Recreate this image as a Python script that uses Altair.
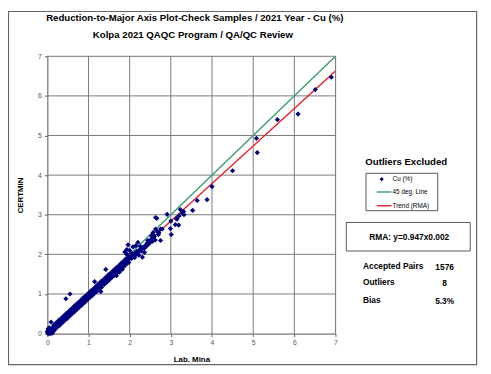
import altair as alt
import pandas as pd

# ---------------- data ----------------
origin_x = [0.00, 0.01, 0.02, 0.02, 0.03, 0.04, 0.05, 0.05, 0.06, 0.07, 0.08, 0.09, 0.10, 0.11,
            0.12, 0.12, 0.13, 0.14, 0.15, 0.03, 0.06, 0.09]
origin_y = [0.05, 0.02, 0.00, 0.12, 0.05, 0.01, 0.08, 0.15, 0.03, 0.00, 0.10, 0.05, 0.02, 0.13,
            0.08, 0.01, 0.15, 0.10, 0.06, 0.09, 0.07, 0.11]

low_x = [0.18, 0.24, 0.30, 0.36, 0.42, 0.48, 0.54, 0.60, 0.66, 0.72, 0.78, 0.84, 0.90, 0.96, 1.02, 1.08,
         1.14, 1.20, 1.26, 1.32, 1.38, 1.44, 1.50, 1.56, 1.62, 1.68, 1.74, 1.80, 1.86, 1.92, 1.98]
low_y = [0.10, 0.16, 0.21, 0.27, 0.33, 0.38, 0.44, 0.50, 0.55, 0.61, 0.67, 0.72, 0.78, 0.84, 0.90, 0.95,
         1.01, 1.06, 1.13, 1.17, 1.24, 1.29, 1.35, 1.41, 1.46, 1.52, 1.58, 1.63, 1.69, 1.75, 1.80]

mid_x = [0.15, 0.20, 0.25, 0.30, 0.35, 0.40, 0.45, 0.50, 0.55, 0.60, 0.65, 0.70, 0.75, 0.80, 0.85, 0.90,
         0.95, 1.00, 1.05, 1.10, 1.15, 1.20, 1.25, 1.30, 1.35, 1.40, 1.45, 1.50, 1.55, 1.60, 1.65, 1.70,
         1.75, 1.80, 1.85, 1.90, 1.95, 2.00]
mid_y = [0.14, 0.19, 0.24, 0.29, 0.33, 0.38, 0.43, 0.48, 0.52, 0.57, 0.62, 0.67, 0.71, 0.76, 0.81, 0.86,
         0.90, 0.95, 1.00, 1.05, 1.09, 1.14, 1.19, 1.24, 1.28, 1.33, 1.38, 1.43, 1.47, 1.52, 1.57, 1.62,
         1.66, 1.71, 1.76, 1.81, 1.85, 1.90]

up_x = [0.16, 0.22, 0.28, 0.34, 0.40, 0.46, 0.52, 0.58, 0.64, 0.70, 0.76, 0.82, 0.88, 0.94, 1.00, 1.06,
        1.12, 1.18, 1.24, 1.30, 1.36, 1.42, 1.48, 1.54, 1.60, 1.66, 1.72, 1.78, 1.84, 1.90, 1.96]
up_y = [0.22, 0.28, 0.34, 0.39, 0.45, 0.51, 0.56, 0.62, 0.68, 0.74, 0.79, 0.85, 0.91, 0.96, 1.02, 1.08,
        1.13, 1.19, 1.25, 1.31, 1.36, 1.42, 1.48, 1.53, 1.59, 1.65, 1.70, 1.76, 1.82, 1.88, 1.93]

ext_x = [2.02, 2.05, 2.08, 2.10, 2.12, 2.15, 2.18, 2.20, 2.22, 2.25, 2.28, 2.31, 2.32, 2.35, 2.38, 2.40,
         2.42, 2.45, 2.48, 2.50, 2.52, 2.55, 2.58, 2.60, 2.62, 2.05, 1.95, 1.92, 1.98, 2.12, 2.26, 2.36,
         2.44, 2.53, 2.57, 2.68, 2.70, 2.75, 1.88, 1.96, 2.08, 2.00, 1.93, 2.15, 2.20, 1.68, 1.75, 1.82]
ext_y = [1.95, 1.90, 2.00, 1.96, 2.03, 1.99, 2.08, 2.05, 1.98, 2.12, 2.08, 1.93, 2.18, 2.15, 2.22, 2.20,
         2.28, 2.25, 2.32, 2.30, 2.38, 2.33, 2.42, 2.46, 2.36, 2.02, 1.98, 2.02, 1.90, 1.92, 2.20, 2.05,
         2.35, 2.47, 2.55, 2.57, 2.50, 2.35, 2.06, 2.24, 2.19, 2.10, 2.12, 2.22, 2.30, 1.46, 1.55, 1.62]

cluster_x = [2.63, 2.66, 2.91, 3.23, 3.31, 3.32, 3.20, 3.13, 3.11, 3.19, 3.00, 2.99, 3.01, 2.75, 2.63,
             2.71, 2.54, 3.53, 3.15, 2.79, 3.28]
cluster_y = [2.93, 2.91, 3.01, 3.13, 3.08, 3.00, 2.97, 2.90, 2.75, 2.74, 2.84, 2.65, 2.50, 2.64, 2.64,
             2.55, 2.47, 3.11, 2.89, 2.64, 3.04]

high_x = [3.64, 3.88, 4.00, 4.50, 5.08, 5.10, 5.59, 6.09, 6.51, 6.90]
high_y = [3.36, 3.38, 3.71, 4.11, 4.93, 4.57, 5.40, 5.54, 6.16, 6.47]

stray_x = [0.45, 0.55, 0.09, 1.15, 1.30, 1.42]
stray_y = [0.88, 1.00, 0.29, 1.31, 1.06, 1.62]

line45_x = [0, 7]
line45_y = [0, 7]
trend_x = [0, 7]
trend_y = [0.002, 6.631]

ticks = [0, 0.5, 1, 1.5, 2, 2.5, 3, 3.5, 4, 4.5, 5, 5.5, 6, 6.5, 7]
grid_values = [1, 2, 3, 4, 5, 6, 7]

title1 = "Reduction-to-Major Axis Plot-Check Samples / 2021 Year - Cu (%)"
title2 = "Kolpa 2021 QAQC Program / QA/QC Review"
stat_labels = ["Accepted Pairs", "Outliers", "Bias"]
stat_values = ["1576", "8", "5.3%"]
legend_labels = ["Cu (%)", "45 deg. Line", "Trend (RMA)"]

# ---------------- build ----------------
FONT = "Liberation Sans"
W, H = 293, 282
NAVY = "#00007f"
GREEN = "#3a9a6c"
RED = "#ee1c24"
GRID = "#7a7a7a"

pts = pd.DataFrame({
    "x": origin_x + low_x + mid_x + up_x + ext_x + cluster_x + high_x + stray_x,
    "y": origin_y + low_y + mid_y + up_y + ext_y + cluster_y + high_y + stray_y,
})
lines = pd.DataFrame({
    "x": line45_x + trend_x,
    "y": line45_y + trend_y,
    "s": ["45"] * 2 + ["trend"] * 2,
})
grid_df = pd.DataFrame({"g": grid_values})

xscale = alt.Scale(domain=[0, 7], nice=False, zero=False)
yscale = alt.Scale(domain=[0, 7], nice=False, zero=False)

lab_expr = "datum.value % 1 === 0 ? datum.label : ''"

xaxis = alt.Axis(values=ticks, labelExpr=lab_expr, grid=False,
                 domainColor="#606060", tickColor="#606060", tickSize=3, labelFontSize=7,
                 labelColor="#555555", labelFont=FONT, title="Lab. Mina", titleFont=FONT,
                 titleFontSize=8, titleFontWeight="bold", titlePadding=10, labelPadding=2,
                 labelFlush=False)
yaxis = alt.Axis(values=ticks, labelExpr=lab_expr, grid=False,
                 domainColor="#606060", tickColor="#606060", tickSize=3, labelFontSize=7,
                 labelColor="#555555", labelFont=FONT, title="CERTMIN", titleFont=FONT,
                 titleFontSize=8, titleFontWeight="bold", titlePadding=13, labelPadding=3,
                 labelFlush=False)

vgrid = alt.Chart(grid_df).mark_rule(color=GRID, strokeWidth=1).encode(
    x=alt.X("g:Q", scale=xscale, axis=xaxis))
hgrid = alt.Chart(grid_df).mark_rule(color=GRID, strokeWidth=1).encode(
    y=alt.Y("g:Q", scale=yscale, axis=yaxis))

line_layer = alt.Chart(lines).mark_line(strokeWidth=1.4, clip=True).encode(
    x=alt.X("x:Q", scale=xscale),
    y=alt.Y("y:Q", scale=yscale),
    color=alt.Color("s:N", scale=alt.Scale(domain=["45", "trend"], range=[GREEN, RED]), legend=None),
)
pt_layer = alt.Chart(pts).mark_point(shape="diamond", filled=True, size=28, opacity=1,
                                     color=NAVY).encode(
    x=alt.X("x:Q", scale=xscale),
    y=alt.Y("y:Q", scale=yscale),
)

one = alt.Data(values=[{"a": 1}])


def txt(text, x, y, size=8, bold=True, align="center", color="black", angle=0):
    kw = dict(text=text, font=FONT, fontSize=size, fontWeight="bold" if bold else "normal",
              align=align, baseline="middle", color=color)
    if angle:
        kw["angle"] = angle
    return alt.Chart(one).mark_text(**kw).encode(x=alt.value(x), y=alt.value(y))


def box(x1, y1, x2, y2, color="#555555", width=1):
    return alt.Chart(one).mark_rect(filled=False, stroke=color, strokeWidth=width).encode(
        x=alt.value(x1), x2=alt.value(x2), y=alt.value(y1), y2=alt.value(y2))


def hline(x1, x2, y, color):
    return alt.Chart(one).mark_rule(color=color, strokeWidth=1.4).encode(
        x=alt.value(x1), x2=alt.value(x2), y=alt.value(y))


extras = [
    box(-39.5, -45.5, 436.5, 313.5, color="#666666", width=1.2),
    txt(title1, 150, -39, size=9.8),
    txt(title2, 148, -22, size=9.8),
    txt("Outliers Excluded", 365, 108, size=9.8),
    box(324, 119, 397, 157, color="#555555"),
    alt.Chart(one).mark_point(shape="diamond", filled=True, size=18, color=NAVY, opacity=1).encode(
        x=alt.value(340), y=alt.value(125)),
    hline(335, 350, 138, GREEN),
    hline(335, 350, 152, RED),
    txt(legend_labels[0], 351, 125, size=6.5, bold=False, align="left"),
    txt(legend_labels[1], 351, 138, size=6.5, bold=False, align="left"),
    txt(legend_labels[2], 351, 152, size=6.5, bold=False, align="left"),
    box(304, 169, 430, 198, color="#555555"),
    txt("RMA: y=0.947x0.002", 368, 184, size=8.5),
    txt(stat_labels[0], 321, 213, size=8.5, align="left"),
    txt(stat_labels[1], 321, 230, size=8.5, align="left"),
    txt(stat_labels[2], 321, 248, size=8.5, align="left"),
    txt(stat_values[0], 404, 214, size=8.5),
    txt(stat_values[1], 404, 231, size=8.5),
    txt(stat_values[2], 404, 249, size=8.5),
]

chart = alt.layer(vgrid, hgrid, line_layer, pt_layer, *extras).properties(
    width=W, height=H,
    autosize=alt.AutoSizeParams(type="none"),
    padding={"left": 40, "top": 46, "right": 150, "bottom": 38},
).configure_view(stroke=None).configure(background="white")

chart.save("out.html", embed_options={"renderer": "svg", "actions": False})
